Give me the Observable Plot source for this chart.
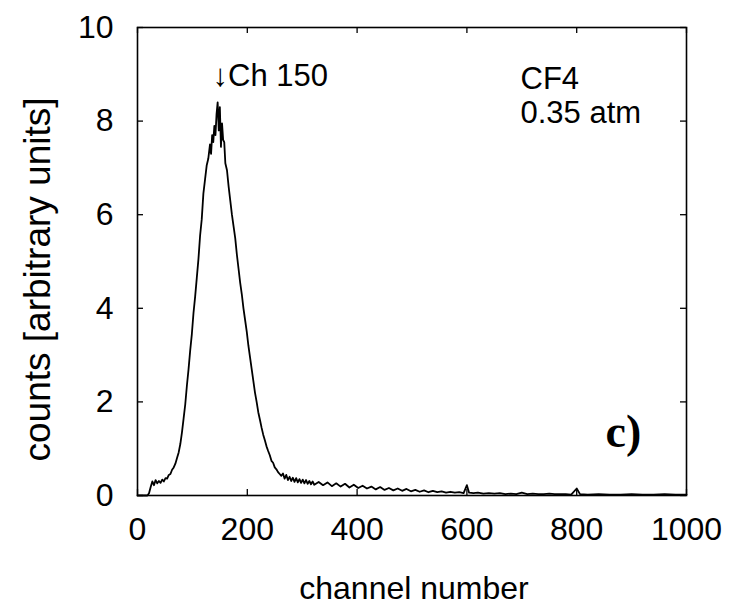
<!DOCTYPE html>
<html><head><meta charset="utf-8">
<script src="https://cdn.jsdelivr.net/npm/d3@7"></script>
<script src="https://cdn.jsdelivr.net/npm/@observablehq/plot@0.6"></script>
<style>body{margin:0;background:#fff}</style>
</head><body><div id="chart"></div>
<script>
const channels = [0,18,21,24,27,30,33,36,39,42,45,48,51,54,57,60,63,66,69,72,75,78,81,84,87,90,93,96,99,102,105,108,111,114,117,120,123,126,129,132,134,136,138,140,142,144,146,148,150,152,154,156,158,160,163,166,169,172,175,178,181,184,187,190,193,196,199,202,205,208,211,214,217,220,223,226,229,232,235,238,241,244,247,250,253,256,259,262,265,268,271,274,277,280,283,286,289,292,295,298,301,304,307,310,313,316,319,322,330,338,346,354,362,370,378,386,394,402,410,418,426,434,442,450,458,466,474,482,490,498,506,514,522,530,538,546,554,562,570,578,586,594,600,604,612,620,630,640,650,660,670,680,690,700,710,720,730,740,750,760,770,780,790,800,806,820,840,860,880,900,920,940,960,980,1000];
const counts = [0,0,0.05,0.18,0.3,0.22,0.33,0.26,0.31,0.27,0.34,0.3,0.37,0.36,0.44,0.46,0.55,0.6,0.68,0.8,0.92,1.1,1.35,1.65,1.95,2.35,2.7,3.1,3.45,3.9,4.25,4.65,5.05,5.55,5.9,6.45,6.75,7.05,7.2,7.5,7.3,7.7,7.55,7.9,7.7,8.15,8.4,7.8,8.3,7.45,7.95,7.6,7.55,7.1,6.95,6.6,6.3,6.0,5.75,5.5,5.15,4.85,4.55,4.3,4.0,3.75,3.5,3.2,2.95,2.7,2.45,2.2,2.0,1.78,1.62,1.45,1.3,1.18,1.05,0.95,0.86,0.74,0.7,0.6,0.56,0.5,0.46,0.42,0.47,0.36,0.44,0.33,0.4,0.31,0.38,0.29,0.37,0.28,0.35,0.27,0.34,0.26,0.33,0.25,0.31,0.24,0.3,0.23,0.29,0.22,0.28,0.2,0.26,0.19,0.25,0.17,0.23,0.16,0.21,0.15,0.19,0.13,0.18,0.12,0.16,0.11,0.15,0.1,0.14,0.09,0.12,0.08,0.11,0.07,0.1,0.07,0.09,0.06,0.08,0.06,0.07,0.05,0.22,0.06,0.05,0.06,0.04,0.05,0.04,0.05,0.03,0.04,0.03,0.06,0.03,0.04,0.03,0.03,0.04,0.03,0.03,0.03,0.02,0.15,0.03,0.02,0.03,0.02,0.02,0.03,0.02,0.02,0.03,0.02,0.02];
const xTicks = [0,200,400,600,800,1000];
const yTicks = [0,2,4,6,8,10];
const xLabel = "channel number";
const yLabel = "counts [arbitrary units]";
const peakNote = "↓Ch 150";
const gasNote = ["CF4", "0.35 atm"];
const panelTag = "c)";

const data = channels.map((c, i) => ({channel: c, count: counts[i]}));
const sans = "'Liberation Sans', Arial, Helvetica, sans-serif";
const W = 729, H = 612, mL = 137, mR = 43, mT = 27, mB = 117;
const fw = W - mL - mR, fh = H - mT - mB, tk = 6;

const chart = Plot.plot({
  width: W, height: H,
  marginLeft: mL, marginRight: mR, marginTop: mT, marginBottom: mB,
  style: {fontFamily: sans, background: "#fff", color: "#000", overflow: "visible"},
  x: {domain: [0, 1000], label: null},
  y: {domain: [0, 10], label: null},
  marks: [
    Plot.line(data, {x: "channel", y: "count", stroke: "#000", strokeWidth: 1.8}),
    Plot.tickX(xTicks, {x: d => d, insetTop: fh - tk, stroke: "#000", strokeWidth: 1.3}),
    Plot.tickX(xTicks, {x: d => d, insetBottom: fh - tk, stroke: "#000", strokeWidth: 1.3}),
    Plot.tickY(yTicks, {y: d => d, insetRight: fw - tk, stroke: "#000", strokeWidth: 1.3}),
    Plot.tickY(yTicks, {y: d => d, insetLeft: fw - tk, stroke: "#000", strokeWidth: 1.3}),
    Plot.frame({stroke: "#000", strokeWidth: 1.6}),
    Plot.axisX({ticks: xTicks, tickSize: 0, tickPadding: 22, fontSize: 32, tickFormat: d => String(d), label: null}),
    Plot.axisY({ticks: yTicks, tickSize: 0, tickPadding: 24, fontSize: 32, tickFormat: d => String(d), label: null}),
    Plot.text([xLabel], {text: d => d, frameAnchor: "bottom", dx: 2, dy: 103, lineAnchor: "bottom", fontSize: 32, fill: "#000"}),
    Plot.text([yLabel], {text: d => d, frameAnchor: "left", rotate: -90, dx: -88, dy: 18, lineAnchor: "bottom", textAnchor: "middle", fontSize: 37, fill: "#000"}),
    Plot.text([peakNote], {text: d => d, frameAnchor: "top-left", dx: 75, dy: 58, lineAnchor: "bottom", textAnchor: "start", fontSize: 31, fill: "#000"}),
    Plot.text([gasNote[0]], {text: d => d, frameAnchor: "top-left", dx: 383, dy: 61, lineAnchor: "bottom", textAnchor: "start", fontSize: 31, fill: "#000"}),
    Plot.text([gasNote[1]], {text: d => d, frameAnchor: "top-left", dx: 383, dy: 95, lineAnchor: "bottom", textAnchor: "start", fontSize: 31, fill: "#000"}),
    Plot.text([panelTag], {text: d => d, frameAnchor: "top-left", dx: 468, dy: 419, lineAnchor: "bottom", textAnchor: "start", fontSize: 46, fontWeight: "bold", fontFamily: "'Liberation Serif', 'Times New Roman', serif", fill: "#000"})
  ]
});
document.getElementById("chart").appendChild(chart);
</script>
</body></html>
